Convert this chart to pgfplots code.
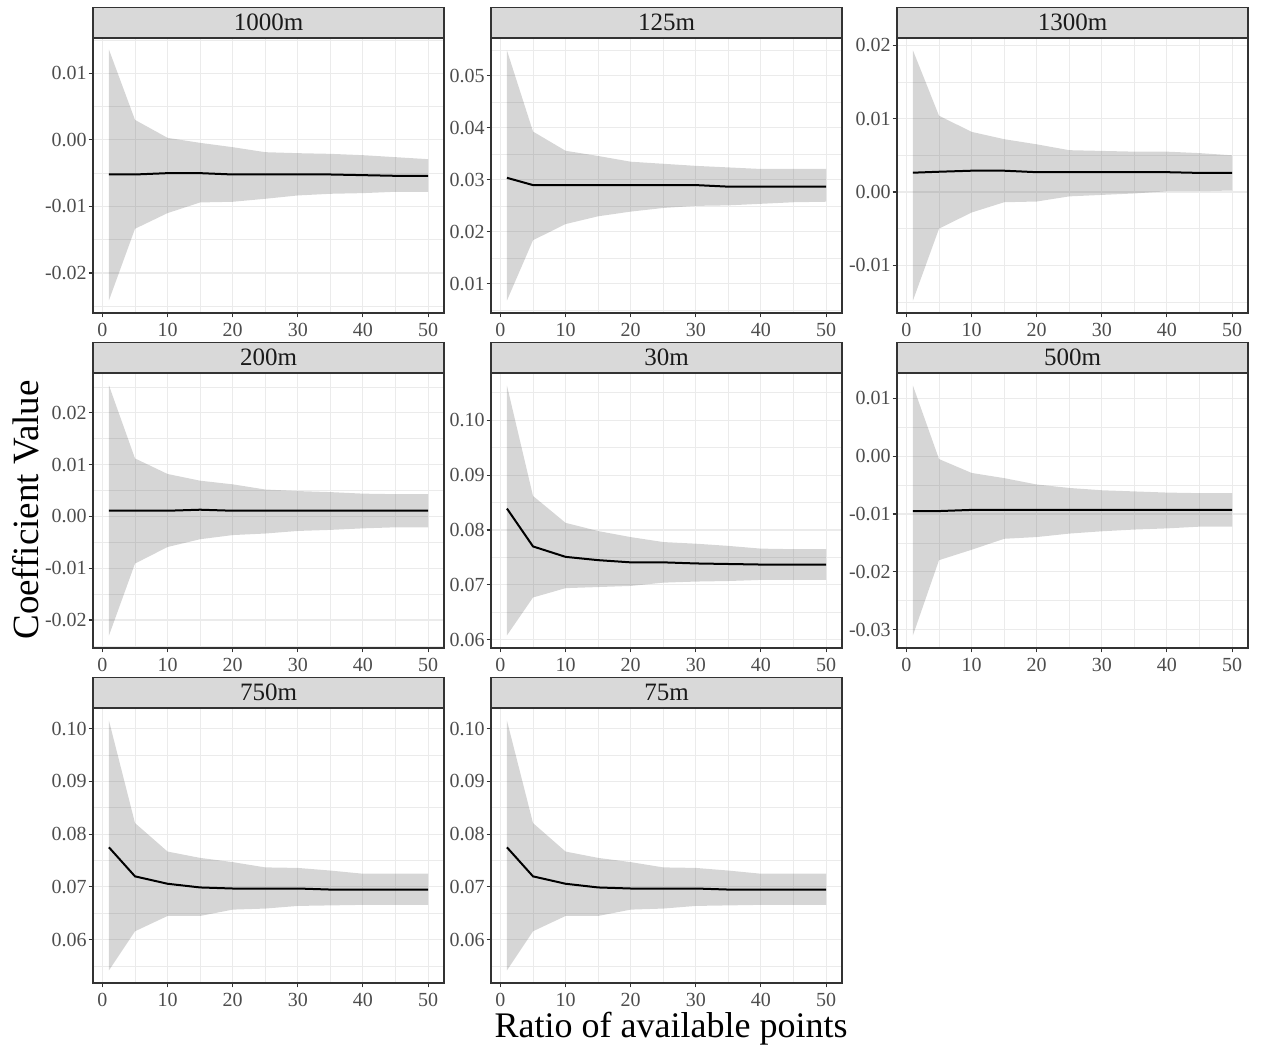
\documentclass[border=0pt]{standalone}
\usepackage{fontspec}
\setmainfont{Liberation Serif}
\usepackage{pgfplots}
\usepackage{pgfplotstable}
\usepgfplotslibrary{fillbetween}
\pgfplotsset{compat=1.18}

\definecolor{gridgray}{HTML}{EBEBEB}
\definecolor{panelborder}{HTML}{333333}
\definecolor{stripfill}{HTML}{D9D9D9}
\definecolor{ticktext}{HTML}{4D4D4D}
\definecolor{striptext}{HTML}{1A1A1A}
\definecolor{ribbon}{HTML}{333333}

% x = ratio, m = mean coefficient, lo/hi = band
\pgfplotstableread{
x  m        lo        hi
1  -0.0052  -0.0241   0.01355
5  -0.0052  -0.01335  0.0030
10 -0.0050  -0.0110   0.0003
15 -0.0050  -0.0094  -0.00045
20 -0.0052  -0.0093  -0.0011
25 -0.0052  -0.00885 -0.00185
30 -0.0052  -0.00835 -0.0020
35 -0.0052  -0.0081  -0.0021
40 -0.0053  -0.0080  -0.0023
45 -0.0054  -0.0078  -0.0026
50 -0.0054  -0.0078  -0.0029
}\tabA
\pgfplotstableread{
x  m       lo      hi
1  0.0304  0.0068  0.0549
5  0.0290  0.0184  0.0393
10 0.0290  0.0215  0.0356
15 0.0290  0.0230  0.0346
20 0.0290  0.0239  0.0335
25 0.0290  0.0246  0.0331
30 0.0290  0.0250  0.0327
35 0.0287  0.0251  0.0324
40 0.0287  0.0254  0.0321
45 0.0287  0.0257  0.0321
50 0.0287  0.0258  0.0321
}\tabB
\pgfplotstableread{
x  m        lo       hi
1  0.00263 -0.0148   0.0193
5  0.00276 -0.0050   0.0104
10 0.0029  -0.0028   0.0082
15 0.0029  -0.0014   0.0072
20 0.0027  -0.0013   0.0065
25 0.0027  -0.0006   0.0057
30 0.0027  -0.0004   0.0056
35 0.0027  -0.0002   0.0055
40 0.0027   0.0001   0.0055
45 0.0026   0.0001   0.0053
50 0.0026   0.0002   0.0050
}\tabC
\pgfplotstableread{
x  m       lo       hi
1  0.0011 -0.0230   0.0253
5  0.0011 -0.0091   0.0112
10 0.0011 -0.0059   0.0082
15 0.0013 -0.0044   0.0069
20 0.0011 -0.0036   0.0062
25 0.0011 -0.0033   0.0052
30 0.0011 -0.0028   0.0049
35 0.0011 -0.0026   0.0047
40 0.0011 -0.0023   0.0044
45 0.0011 -0.0021   0.0043
50 0.0011 -0.0021   0.0043
}\tabD
\pgfplotstableread{
x  m       lo      hi
1  0.0839  0.0608  0.1063
5  0.0770  0.0677  0.0862
10 0.0751  0.0694  0.0813
15 0.0745  0.0696  0.0798
20 0.0741  0.0698  0.0787
25 0.0741  0.0704  0.0778
30 0.0739  0.0706  0.0775
35 0.0738  0.0707  0.0771
40 0.0737  0.0709  0.0766
45 0.0737  0.0709  0.0765
50 0.0737  0.0709  0.0765
}\tabE
\pgfplotstableread{
x  m        lo       hi
1  -0.0095 -0.0310   0.0122
5  -0.0095 -0.0180  -0.0005
10 -0.0093 -0.0162  -0.0029
15 -0.0093 -0.0143  -0.0038
20 -0.0093 -0.0140  -0.0049
25 -0.0093 -0.0134  -0.0055
30 -0.0093 -0.0130  -0.0059
35 -0.0093 -0.0127  -0.0061
40 -0.0093 -0.0125  -0.0063
45 -0.0093 -0.0122  -0.0064
50 -0.0093 -0.0122  -0.0064
}\tabF
\pgfplotstableread{
x  m       lo      hi
1  0.0775  0.0542  0.1015
5  0.0720  0.0616  0.0821
10 0.0706  0.0645  0.0767
15 0.0699  0.0645  0.0755
20 0.0697  0.0657  0.0747
25 0.0697  0.0659  0.0737
30 0.0697  0.0664  0.0736
35 0.0695  0.0665  0.0731
40 0.0695  0.0666  0.0725
45 0.0695  0.0666  0.0725
50 0.0695  0.0666  0.0725
}\tabG
\pgfplotstableread{
x  m       lo      hi
1  0.0775  0.0542  0.1015
5  0.0720  0.0616  0.0821
10 0.0706  0.0645  0.0767
15 0.0699  0.0645  0.0755
20 0.0697  0.0657  0.0747
25 0.0697  0.0659  0.0737
30 0.0697  0.0664  0.0736
35 0.0695  0.0665  0.0731
40 0.0695  0.0666  0.0725
45 0.0695  0.0666  0.0725
50 0.0695  0.0666  0.0725
}\tabH

\pgfplotsset{
  facet/.style={
    scale only axis, width=175.5pt, height=137.5pt,
    anchor=north west,
    xmin=-1.45, xmax=52.45,
    xtick={0,10,20,30,40,50}, minor xtick={5,15,25,35,45},
    grid=both,
    major grid style={draw=gridgray, line width=0.55pt},
    minor grid style={draw=gridgray, line width=0.3pt},
    axis line style={draw=panelborder, line width=0.55pt},
    tick align=outside, major tick length=2.2pt, minor tick length=0pt,
    tick style={draw=panelborder, line width=0.55pt},
    xtick pos=left, ytick pos=left,
    ticklabel style={font=\fontsize{10}{12}\selectfont, text=ticktext},
    yticklabel style={xshift=2.6pt},
    xticklabel style={yshift=0.6pt},
    /pgf/number format/assume math mode=true,
    every axis title shift=0pt,
    title style={at={(0.5,1)}, anchor=south, fill=stripfill, draw=panelborder,
      line width=0.55pt, minimum width=175.5pt, minimum height=15pt, inner sep=0pt,
      font=\fontsize{12.5}{14}\selectfont, text=striptext},
  }
}

% #1 position, #2 strip, #3 table, #4 ymin, #5 ymax, #6 yticks, #7 labels, #8 minor
\newcommand{\facet}[8]{%
  \begin{axis}[facet, at={(#1)}, title={#2}, ymin=#4, ymax=#5,
      ytick={#6}, yticklabels={#7}, minor ytick={#8}]
    \addplot[name path=hi, draw=none] table[x=x, y=hi] {#3};
    \addplot[name path=lo, draw=none] table[x=x, y=lo] {#3};
    \addplot[fill=ribbon, fill opacity=0.2, draw=none] fill between[of=hi and lo];
    \addplot[black, line width=1pt] table[x=x, y=m] {#3};
  \end{axis}}

\begin{document}
\begin{tikzpicture}
\facet{46.5pt,504.5pt}{1000m}{\tabA}{-0.026}{0.0153}
  {-0.02,-0.01,0,0.01}{-0.02,-0.01,0.00,0.01}
  {-0.025,-0.015,-0.005,0.005,0.015}
\facet{245.5pt,504.5pt}{125m}{\tabB}{0.0044}{0.0573}
  {0.01,0.02,0.03,0.04,0.05}{0.01,0.02,0.03,0.04,0.05}
  {0.005,0.015,0.025,0.035,0.045,0.055}
\facet{448.5pt,504.5pt}{1300m}{\tabC}{-0.0165}{0.0210}
  {-0.01,0,0.01,0.02}{-0.01,0.00,0.01,0.02}
  {-0.015,-0.005,0.005,0.015}
\facet{46.5pt,337pt}{200m}{\tabD}{-0.0254}{0.0277}
  {-0.02,-0.01,0,0.01,0.02}{-0.02,-0.01,0.00,0.01,0.02}
  {-0.025,-0.015,-0.005,0.005,0.015,0.025}
\facet{245.5pt,337pt}{30m}{\tabE}{0.0585}{0.1086}
  {0.06,0.07,0.08,0.09,0.10}{0.06,0.07,0.08,0.09,0.10}
  {0.065,0.075,0.085,0.095,0.105}
\facet{448.5pt,337pt}{500m}{\tabF}{-0.0332}{0.0144}
  {-0.03,-0.02,-0.01,0,0.01}{-0.03,-0.02,-0.01,0.00,0.01}
  {-0.025,-0.015,-0.005,0.005}
\facet{46.5pt,169.5pt}{750m}{\tabG}{0.0518}{0.1039}
  {0.06,0.07,0.08,0.09,0.10}{0.06,0.07,0.08,0.09,0.10}
  {0.055,0.065,0.075,0.085,0.095}
\facet{245.5pt,169.5pt}{75m}{\tabH}{0.0518}{0.1039}
  {0.06,0.07,0.08,0.09,0.10}{0.06,0.07,0.08,0.09,0.10}
  {0.055,0.065,0.075,0.085,0.095}

\node[rotate=90, font=\fontsize{18.5}{20}\selectfont] at (13pt,268.5pt) {Coefficient Value};
\node[font=\fontsize{18}{20}\selectfont] at (335.5pt,9pt) {Ratio of available points};
\pgfresetboundingbox
\path[use as bounding box] (0,0) rectangle (631.5pt,523.5pt);
\end{tikzpicture}
\end{document}
